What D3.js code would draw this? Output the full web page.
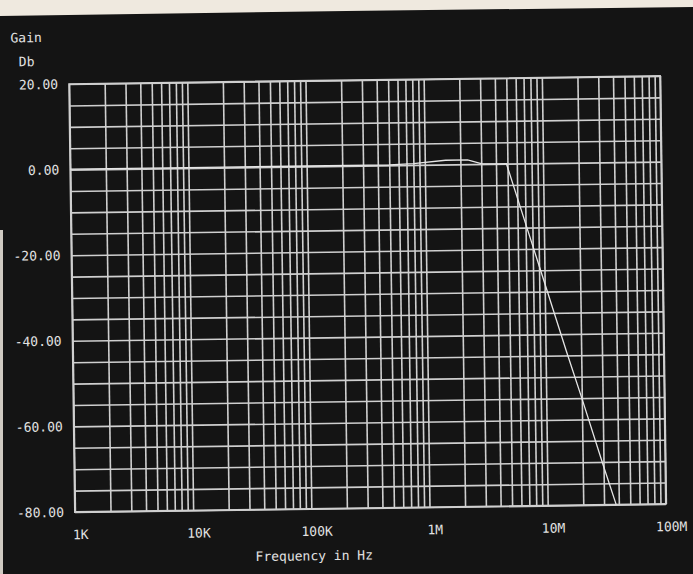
<!DOCTYPE html>
<html>
<head>
<meta charset="utf-8">
<script src="https://cdn.jsdelivr.net/npm/d3@7"></script>
<style>
  html, body { margin: 0; padding: 0; background: #141414; }
  svg { display: block; }
  text { font-family: "DejaVu Sans Mono", "Liberation Mono", monospace; fill: #e2e2e2; }
</style>
</head>
<body>
<svg id="chart" width="693" height="574"></svg>
<script>
// ---- data ----
const freqHz = [1e3, 1e4, 1e5, 5e5, 8e5, 1.5e6, 2.3e6, 3.0e6, 4.3e6, 4.9e6, 7e6, 1e7, 1.5e7, 2e7, 3e7, 3.8e7];
const gainDb = [0.1, 0.1, 0.1, 0.1, 0.3, 1.0, 1.0, 0.1, 0.0, 0.0, -14, -28, -44, -55, -71, -80];
const xTickValues = [1e3, 1e4, 1e5, 1e6, 1e7, 1e8];
const xTickLabels = ["1K", "10K", "100K", "1M", "10M", "100M"];
const yTickValues = [20, 0, -20, -40, -60, -80];
const yTickLabels = ["20.00", "0.00", "-20.00", "-40.00", "-60.00", "-80.00"];
const yGridStep = 5;

// ---- layout ----
const W = 693, H = 574;
const pL = 72, pR = 663, pT = 80, pB = 508;

const svg = d3.select("#chart");

// photo edges (paper visible around the screen)
svg.append("rect").attr("width", W).attr("height", H).attr("fill", "#141414");
svg.append("polygon")
  .attr("points", `0,0 ${W},0 ${W},7 ${W*0.5},11 0,16`)
  .attr("fill", "#efe9df");
svg.append("rect").attr("x", 0).attr("y", 230).attr("width", 3).attr("height", H - 230)
  .attr("fill", "#cfcac2");

const g = svg.append("g").attr("transform", "rotate(-0.78, 367, 295)");

const x = d3.scaleLog().domain([1e3, 1e8]).range([pL, pR]);
const y = d3.scaleLinear().domain([-80, 20]).range([pB, pT]);

// grid values
const xGrid = [];
for (let d = 1e3; d < 1e8; d *= 10) for (let m = 1; m < 10; m++) xGrid.push(d * m);
xGrid.push(1e8);
const yGrid = d3.range(-80, 20 + 0.001, yGridStep);

const gridColor = "#cfcfcf";

// vertical grid via axis
const vAxis = g.append("g")
  .attr("transform", `translate(0,${pB})`)
  .call(d3.axisBottom(x).tickValues(xGrid).tickSize(-(pB - pT)).tickFormat(""));
vAxis.select(".domain").remove();
vAxis.selectAll("line").attr("stroke", gridColor).attr("stroke-width", 1.6);

// horizontal grid via axis
const hAxis = g.append("g")
  .attr("transform", `translate(${pL},0)`)
  .call(d3.axisLeft(y).tickValues(yGrid).tickSize(-(pR - pL)).tickFormat(""));
hAxis.select(".domain").remove();
hAxis.selectAll("line").attr("stroke", gridColor).attr("stroke-width", 1.6);

// frame
g.append("rect")
  .attr("x", pL).attr("y", pT)
  .attr("width", pR - pL).attr("height", pB - pT)
  .attr("fill", "none").attr("stroke", gridColor).attr("stroke-width", 1.8);

// curve
const pts = freqHz.map((f, i) => [f, gainDb[i]]);
g.append("path")
  .datum(pts)
  .attr("fill", "none")
  .attr("stroke", "#e6e6e6")
  .attr("stroke-width", 1.3)
  .attr("d", d3.line().x(d => x(d[0])).y(d => y(d[1])));

// x tick labels
const xLab = g.append("g")
  .attr("transform", `translate(0,${pB + 23})`)
  .call(d3.axisBottom(x).tickValues(xTickValues).tickSize(0)
        .tickFormat((d, i) => xTickLabels[i]));
xLab.select(".domain").remove();
xLab.selectAll("text")
  .attr("dx", 5).attr("dy", "0.32em").attr("y", 0)
  .style("font-size", "13px")
  .style("font-family", "'DejaVu Sans Mono', monospace")
  .attr("fill", "#e2e2e2");

// y tick labels
const yLab = g.append("g")
  .attr("transform", `translate(61,0)`)
  .call(d3.axisLeft(y).tickValues(yTickValues).tickSize(0)
        .tickFormat((d, i) => yTickLabels[i]));
yLab.select(".domain").remove();
yLab.selectAll("text")
  .attr("x", 0)
  .style("font-size", "13px")
  .style("font-family", "'DejaVu Sans Mono', monospace")
  .attr("fill", "#e2e2e2");

// axis titles
g.append("text").attr("x", 14).attr("y", 33).attr("dy", "0.35em")
  .style("font-size", "13px").text("Gain");
g.append("text").attr("x", 22).attr("y", 57).attr("dy", "0.35em")
  .style("font-size", "13px").text("Db");
g.append("text").attr("x", 252).attr("y", 555).attr("dy", "0.35em")
  .style("font-size", "13px").text("Frequency in Hz");
</script>
</body>
</html>
